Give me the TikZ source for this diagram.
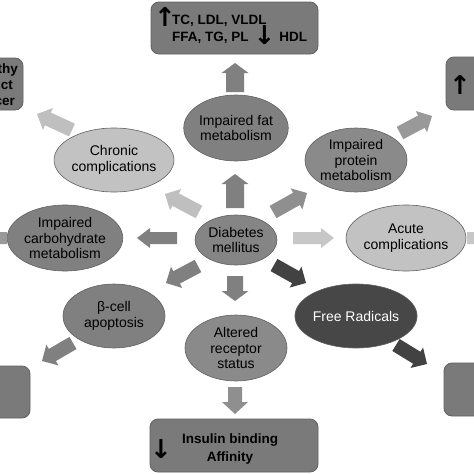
\documentclass[tikz,border=0pt]{standalone}
\usepackage{fontspec}
\setmainfont{Liberation Sans}
\newfontfamily\arrfont{DejaVu Sans}
\usetikzlibrary{shapes.geometric}

\definecolor{cFat}{gray}{0.50}
\definecolor{cLight}{gray}{0.76}
\definecolor{cProt}{gray}{0.54}
\definecolor{cDM}{gray}{0.52}
\definecolor{cMed}{gray}{0.50}
\definecolor{cDark}{gray}{0.28}
\definecolor{cBox}{gray}{0.48}
\definecolor{cEdge}{gray}{0.38}
\definecolor{aMed}{gray}{0.50}
\definecolor{aLight}{gray}{0.75}
\definecolor{aLighter}{gray}{0.78}
\definecolor{aProt}{gray}{0.56}
\definecolor{aMid}{gray}{0.60}
\definecolor{aDark}{gray}{0.26}

\newcommand\barrow[6]{%
  \pgfpointanchor{#2}{center}\pgfgetlastxy\bax\bay
  \pgfpointanchor{#3}{center}\pgfgetlastxy\bbx\bby
  \pgfmathsetmacro\bang{atan2((\bby)-(\bay),(\bbx)-(\bax))}%
  \pgfmathsetmacro\blen{veclen((\bbx)-(\bax),(\bby)-(\bay))}%
  \pgfmathsetmacro\bhb{\blen-#6}%
  \pgfmathsetmacro\bsw{#4/2}%
  \pgfmathsetmacro\bhw{#5/2}%
  \begin{scope}[shift={(\bax,\bay)},rotate=\bang]
    \fill[#1] (0,-\bsw) -- (\bhb,-\bsw) -- (\bhb,-\bhw) -- (\blen,0) -- (\bhb,\bhw) -- (\bhb,\bsw) -- (0,\bsw) -- cycle;
  \end{scope}}

\begin{document}
\begin{tikzpicture}[x=1pt,y=-1pt,
  ell/.style={ellipse, draw=cEdge, line width=0.6pt, inner sep=0pt, align=center,
    font=\fontsize{14}{15.5}\selectfont},
  box/.style={rectangle, rounded corners=8pt, draw=cEdge, line width=0.8pt, fill=cBox, inner sep=0pt},
  btxt/.style={inner sep=0pt, font=\bfseries\fontsize{13.5}{17}\selectfont},
  bigarr/.style={inner sep=0pt, font=\arrfont\bfseries\fontsize{26}{26}\selectfont}]
\useasboundingbox (0,0) rectangle (474,474);
\fill[white] (0,0) rectangle (474,474);
\clip (0,0) rectangle (474,474);

% boxes
\node[box, minimum width=167pt, minimum height=52pt] (topbox) at (234.5,28) {};
\node[btxt, anchor=west, align=left] (toptxt) at (154,29)
  {\makebox[18pt][l]{\smash{\raisebox{-2pt}{\arrfont\fontsize{26}{26}\selectfont ↑}}}TC, LDL, VLDL\\
   \hspace*{18pt}FFA, TG, PL\hspace{5pt}\smash{\raisebox{-3pt}{\arrfont\fontsize{26}{26}\selectfont ↓}}\hspace{4pt}HDL};
\node[box, minimum width=63pt, minimum height=52pt] (ltbox) at (-8.5,84) {};
\node[btxt, anchor=base east] (lt1) at (18,73) {thy};
\node[btxt, anchor=base east] (lt2) at (13,89) {ct};
\node[btxt, anchor=base east] (lt3) at (15,105) {cer};
\node[box, minimum width=64pt, minimum height=53pt] (rtbox) at (478,83.5) {};
\node[bigarr] (rtarr) at (460,85) {↑};
\node[box, minimum width=70pt, minimum height=52pt] (lbbox) at (-5,392) {};
\node[box, minimum width=66pt, minimum height=53pt] (rbbox) at (477,389.5) {};
\node[box, minimum width=168pt, minimum height=53pt] (botbox) at (234,445.5) {};
\node[btxt, align=center, font=\bfseries\fontsize{13.5}{18}\selectfont] (bottxt) at (230,449) {Insulin binding\\Affinity};
\node[bigarr] (botarr) at (161,449) {↓};

% ellipses
\node[ell, fill=cFat, minimum width=102pt, minimum height=66pt] (fat) at (236,128) {Impaired fat\\metabolism};
\node[ell, fill=cLight, minimum width=102pt, minimum height=64pt] (chronic) at (114,160) {Chronic\\complications};
\node[ell, fill=cProt, minimum width=102pt, minimum height=64pt] (prot) at (356,160) {Impaired\\protein\\metabolism};
\node[ell, fill=cDM, minimum width=82pt, minimum height=50pt] (dm) at (236,240) {Diabetes\\mellitus};
\node[ell, fill=cMed, minimum width=104pt, minimum height=66pt] (carb) at (65,238) {Impaired\\carbohydrate\\metabolism};
\node[ell, fill=cLight, minimum width=104pt, minimum height=66pt] (acute) at (406,238) {Acute\\complications};
\node[ell, fill=cMed, minimum width=102pt, minimum height=64pt] (beta) at (114,316) {β-cell\\apoptosis};
\node[ell, fill=cProt, minimum width=102pt, minimum height=66pt] (alt) at (236,348) {Altered\\receptor\\status};
\node[ell, fill=cDark, text=white, minimum width=102pt, minimum height=64pt] (free) at (356,316) {Free Radicals};

% arrow end points
\coordinate (a1s) at (235,208); \coordinate (a1e) at (235,174);
\coordinate (a2s) at (235,92);  \coordinate (a2e) at (235,63);
\coordinate (a3s) at (199,212); \coordinate (a3e) at (165,194);
\coordinate (a4s) at (273,212); \coordinate (a4e) at (307,193);
\coordinate (a5s) at (177,238); \coordinate (a5e) at (137,238);
\coordinate (a6s) at (293,238); \coordinate (a6e) at (334,238);
\coordinate (a7s) at (198,266); \coordinate (a7e) at (166,283);
\coordinate (a8s) at (235,276); \coordinate (a8e) at (235,301);
\coordinate (a9s) at (274,265); \coordinate (a9e) at (306,283);
\coordinate (b1s) at (72,130);  \coordinate (b1e) at (37,114);
\coordinate (b2s) at (400,133); \coordinate (b2e) at (432,116);
\coordinate (b3s) at (7,238);   \coordinate (b3e) at (-35,238);
\coordinate (b4s) at (467,238); \coordinate (b4e) at (509,238);
\coordinate (b5s) at (73,343);  \coordinate (b5e) at (42,361);
\coordinate (b6s) at (396,345); \coordinate (b6e) at (427,364);
\coordinate (b7s) at (235,387); \coordinate (b7e) at (235,414);

\barrow{aMed}{a1s}{a1e}{18}{27}{10}
\barrow{aMed}{a2s}{a2e}{18}{27}{10}
\barrow{aLight}{a3s}{a3e}{14}{24}{12}
\barrow{aProt}{a4s}{a4e}{14}{24}{12}
\barrow{aMed}{a5s}{a5e}{12}{20}{13}
\barrow{aLighter}{a6s}{a6e}{12}{20}{13}
\barrow{aMed}{a7s}{a7e}{14}{24}{12}
\barrow{aMed}{a8s}{a8e}{16}{27}{10}
\barrow{aDark}{a9s}{a9e}{14}{24}{12}
\barrow{aLight}{b1s}{b1e}{14}{24}{12}
\barrow{aMid}{b2s}{b2e}{14}{24}{12}
\barrow{aMid}{b3s}{b3e}{12}{20}{13}
\barrow{aLighter}{b4s}{b4e}{12}{20}{13}
\barrow{aMed}{b5s}{b5e}{14}{24}{12}
\barrow{aDark}{b6s}{b6e}{14}{24}{12}
\barrow{aProt}{b7s}{b7e}{14}{26}{12}
\end{tikzpicture}
\end{document}
